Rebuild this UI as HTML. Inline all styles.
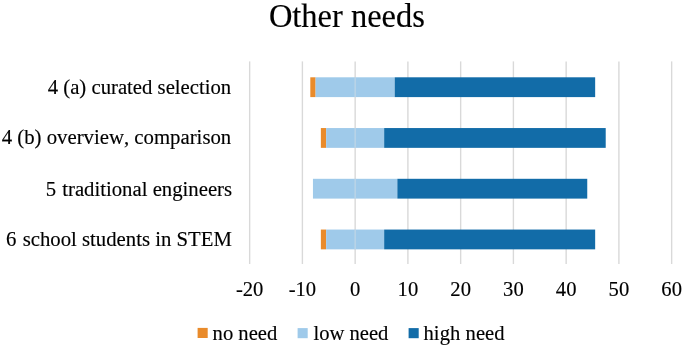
<!DOCTYPE html>
<html><head><meta charset="utf-8"><title>Other needs</title>
<style>
html,body{margin:0;padding:0;background:#fff;}
body{width:685px;height:350px;overflow:hidden;font-family:"Liberation Serif",serif;}
svg{display:block;font-family:"Liberation Serif",serif;will-change:transform;}
svg text{stroke:#000;stroke-width:0.15px;font-kerning:none;}
</style></head><body>
<svg width="685" height="350" viewBox="0 0 685 350">
<rect x="0" y="0" width="685" height="350" fill="#ffffff"/>
<line x1="249.65" y1="61.40" x2="249.65" y2="264.00" stroke="#D9D9D9" stroke-width="1.4"/>
<line x1="302.40" y1="61.40" x2="302.40" y2="264.00" stroke="#D9D9D9" stroke-width="1.4"/>
<line x1="355.15" y1="61.40" x2="355.15" y2="264.00" stroke="#D9D9D9" stroke-width="1.4"/>
<line x1="407.90" y1="61.40" x2="407.90" y2="264.00" stroke="#D9D9D9" stroke-width="1.4"/>
<line x1="460.65" y1="61.40" x2="460.65" y2="264.00" stroke="#D9D9D9" stroke-width="1.4"/>
<line x1="513.40" y1="61.40" x2="513.40" y2="264.00" stroke="#D9D9D9" stroke-width="1.4"/>
<line x1="566.15" y1="61.40" x2="566.15" y2="264.00" stroke="#D9D9D9" stroke-width="1.4"/>
<line x1="618.90" y1="61.40" x2="618.90" y2="264.00" stroke="#D9D9D9" stroke-width="1.4"/>
<line x1="671.65" y1="61.40" x2="671.65" y2="264.00" stroke="#D9D9D9" stroke-width="1.4"/>
<rect x="310.31" y="77.30" width="5.28" height="19.80" fill="#E98B2B"/>
<rect x="315.59" y="77.30" width="79.12" height="19.80" fill="#9FCAEA"/>
<rect x="394.71" y="77.30" width="200.45" height="19.80" fill="#126CA8"/>
<rect x="320.86" y="128.05" width="5.28" height="19.80" fill="#E98B2B"/>
<rect x="326.14" y="128.05" width="58.03" height="19.80" fill="#9FCAEA"/>
<rect x="384.16" y="128.05" width="221.55" height="19.80" fill="#126CA8"/>
<rect x="312.95" y="178.80" width="84.40" height="19.80" fill="#9FCAEA"/>
<rect x="397.35" y="178.80" width="189.90" height="19.80" fill="#126CA8"/>
<rect x="320.86" y="229.55" width="5.28" height="19.80" fill="#E98B2B"/>
<rect x="326.14" y="229.55" width="58.03" height="19.80" fill="#9FCAEA"/>
<rect x="384.16" y="229.55" width="211.00" height="19.80" fill="#126CA8"/>
<line x1="355.15" y1="77.30" x2="355.15" y2="97.10" stroke="#E4E4E4" stroke-width="1.2" stroke-opacity="0.5"/>
<line x1="355.15" y1="128.05" x2="355.15" y2="147.85" stroke="#E4E4E4" stroke-width="1.2" stroke-opacity="0.5"/>
<line x1="355.15" y1="178.80" x2="355.15" y2="198.60" stroke="#E4E4E4" stroke-width="1.2" stroke-opacity="0.5"/>
<line x1="355.15" y1="229.55" x2="355.15" y2="249.35" stroke="#E4E4E4" stroke-width="1.2" stroke-opacity="0.5"/>
<text transform="translate(346.9 27.0) scale(1 1.025)" x="0" y="0" font-size="32.5" text-anchor="middle" fill="#000">Other needs</text>
<text x="47.72" y="94.10" font-size="20.726" fill="#000">4 (a) curated selection</text>
<text x="1.72" y="144.20" font-size="20.775" fill="#000">4 (b) overview, comparison</text>
<text x="45.68" y="195.85" font-size="20.74" fill="#000">5<tspan dx="1"> traditional engineers</tspan></text>
<text x="6.11" y="245.70" font-size="20.766" fill="#000">6<tspan dx="1"> school students in STEM</tspan></text>
<text x="249.65" y="295.8" font-size="20.6" text-anchor="middle" fill="#000">-20</text>
<text x="302.40" y="295.8" font-size="20.6" text-anchor="middle" fill="#000">-10</text>
<text x="355.15" y="295.8" font-size="20.6" text-anchor="middle" fill="#000">0</text>
<text x="407.90" y="295.8" font-size="20.6" text-anchor="middle" fill="#000">10</text>
<text x="460.65" y="295.8" font-size="20.6" text-anchor="middle" fill="#000">20</text>
<text x="513.40" y="295.8" font-size="20.6" text-anchor="middle" fill="#000">30</text>
<text x="566.15" y="295.8" font-size="20.6" text-anchor="middle" fill="#000">40</text>
<text x="618.90" y="295.8" font-size="20.6" text-anchor="middle" fill="#000">50</text>
<text x="671.65" y="295.8" font-size="20.6" text-anchor="middle" fill="#000">60</text>
<rect x="197.60" y="327.90" width="10.1" height="10.1" fill="#E98B2B"/>
<text x="212.60" y="339.6" font-size="20.6" textLength="64.66" lengthAdjust="spacing" fill="#000">no need</text>
<rect x="297.60" y="328.10" width="10.1" height="10.1" fill="#9FCAEA"/>
<text x="313.40" y="339.6" font-size="20.6" textLength="74.96" lengthAdjust="spacing" fill="#000">low need</text>
<rect x="408.60" y="328.10" width="10.1" height="10.1" fill="#126CA8"/>
<text x="423.50" y="339.6" font-size="20.6" textLength="81.10" lengthAdjust="spacing" fill="#000">high need</text>
</svg></body></html>
